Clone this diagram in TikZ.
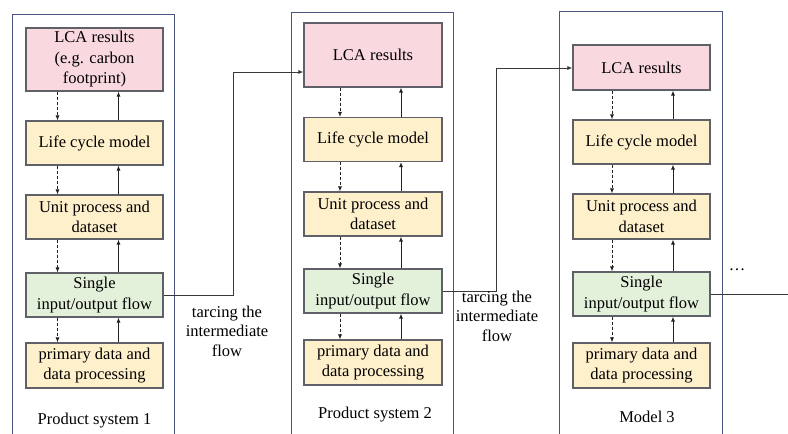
\documentclass[tikz,border=0pt]{standalone}
\usepackage{fontspec}
\setmainfont{Liberation Serif}
\newfontfamily\tnr{Liberation Serif}
\usetikzlibrary{arrows.meta}
\definecolor{pinkc}{HTML}{F9D9DF}
\definecolor{yellowc}{HTML}{FFF0CC}
\definecolor{greenc}{HTML}{E3F0DA}
\definecolor{boxline}{HTML}{5F6068}
\definecolor{frameline}{HTML}{4A5680}
\definecolor{arrowc}{HTML}{222222}
\begin{document}
\begin{tikzpicture}[x=1pt,y=-1pt,
  box/.style={draw=boxline, line width=1.1pt, minimum width=137pt, minimum height=44pt,
    align=center, inner sep=2pt, font=\tnr\fontsize{16.5}{20.5}\selectfont},
  lcabox/.style={box, fill=pinkc},
  ybox/.style={box, fill=yellowc},
  gbox/.style={box, fill=greenc},
  frame/.style={draw=frameline, line width=0.9pt},
  lbl/.style={align=center, inner sep=0pt, font=\tnr\fontsize{16.5}{19.5}\selectfont},
  dasharrow/.style={draw=arrowc, line width=0.8pt, dash pattern=on 3pt off 2pt, -{Latex[length=5pt,width=4pt]}},
  uparrow/.style={draw=arrowc, line width=0.9pt, -{Latex[length=5pt,width=4pt]}},
  conn/.style={draw=arrowc!90, line width=0.9pt}
]
\useasboundingbox (0,0) rectangle (788,434);

% frames
\draw[frame] (12,440) -- (12,14) -- (174,14) -- (174,440);
\draw[frame] (291,440) -- (291,12) -- (453,12) -- (453,440);
\draw[frame] (559,440) -- (559,11) -- (722,11) -- (722,440);

% panel 1
\node[lcabox, minimum height=63pt] (r1) at (94.5,59.5) {LCA results\\(e.g. carbon\\footprint)};
\node[ybox] (m1) at (94.5,143) {Life cycle model};
\node[ybox] (u1) at (94.5,217) {Unit process and\\dataset};
\node[gbox] (s1) at (94.5,295) {Single\\input/output flow};
\node[ybox, minimum height=45pt] (p1) at (94.5,365.5) {primary data and\\data processing};
\node[lbl] (t1) at (94.5,421) {Product system 1};

% panel 2
\node[lcabox, minimum width=138pt, minimum height=64pt] (r2) at (373,55) {LCA results};
\node[ybox, minimum width=138pt] (m2) at (373,139.5) {Life cycle model};
\node[ybox, minimum width=138pt] (u2) at (373,214) {Unit process and\\dataset};
\node[gbox, minimum width=138pt] (s2) at (373,291) {Single\\input/output flow};
\node[ybox, minimum width=138pt, minimum height=45pt] (p2) at (373,362.5) {primary data and\\data processing};
\node[lbl] (t2) at (375,415) {Product system 2};

% panel 3
\node[lcabox, minimum height=45pt] (r3) at (641.5,67.5) {LCA results};
\node[ybox] (m3) at (641.5,142) {Life cycle model};
\node[ybox, minimum height=45pt] (u3) at (641.5,216.5) {Unit process and\\dataset};
\node[gbox] (s3) at (641.5,294) {Single\\input/output flow};
\node[ybox, minimum height=45pt] (p3) at (641.5,365.5) {primary data and\\data processing};
\node[lbl] (t3) at (647,417) {Model 3};

% vertical arrows
\foreach \a/\b in {r1/m1, m1/u1, u1/s1, s1/p1}{
  \draw[dasharrow] ([xshift=-37pt]\a.south) -- ([xshift=-37pt]\b.north);
  \draw[uparrow] ([xshift=24pt]\b.north) -- ([xshift=24pt]\a.south);
}
\foreach \a/\b in {r2/m2, m2/u2, u2/s2, s2/p2}{
  \draw[dasharrow] ([xshift=-33pt]\a.south) -- ([xshift=-33pt]\b.north);
  \draw[uparrow] ([xshift=28pt]\b.north) -- ([xshift=28pt]\a.south);
}
\foreach \a/\b in {r3/m3, m3/u3, u3/s3, s3/p3}{
  \draw[dasharrow] ([xshift=-29.5pt]\a.south) -- ([xshift=-29.5pt]\b.north);
  \draw[uparrow] ([xshift=31.5pt]\b.north) -- ([xshift=31.5pt]\a.south);
}

% connectors between panels
\coordinate (j1) at (233,72);
\coordinate (j2) at (496,68);
\coordinate (e3) at (790,294);
\draw[conn, -{Latex[length=5pt,width=4pt]}] (s1.east) -| (j1) -- (r2.west |- j1);
\draw[conn, -{Latex[length=5pt,width=4pt]}] (s2.east) -| (j2) -- (r3.west |- j2);
\draw[conn] (s3.east) -- (e3);

\node[lbl] (f1) at (227,331) {tarcing the\\intermediate\\flow};
\node[lbl] (f2) at (497,316) {tarcing the\\intermediate\\flow};
\node[lbl] (dots) at (737,270) {…};
\end{tikzpicture}
\end{document}
